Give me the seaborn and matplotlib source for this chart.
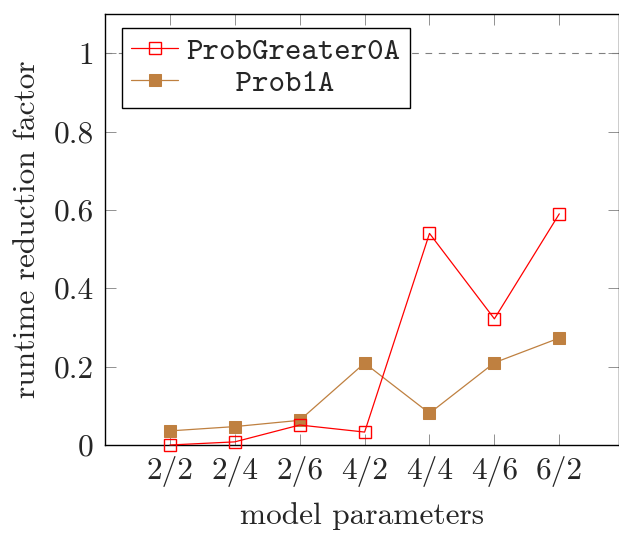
import matplotlib
matplotlib.use("Agg")
import matplotlib.pyplot as plt
import seaborn as sns
import pandas as pd

categories = ["2/2", "2/4", "2/6", "4/2", "4/4", "4/6", "6/2"]
prob_greater0a = [0.0, 0.008, 0.051, 0.033, 0.54, 0.322, 0.59]
prob1a = [0.036, 0.047, 0.063, 0.209, 0.081, 0.21, 0.273]
y_ticks = [0, 0.2, 0.4, 0.6, 0.8, 1]
y_tick_labels = ["0", "0.2", "0.4", "0.6", "0.8", "1"]

sns.set_style("ticks")
plt.rcParams["font.family"] = ["cmr10", "DejaVu Serif"]
plt.rcParams["axes.formatter.use_mathtext"] = True
plt.rcParams["mathtext.fontset"] = "cm"

FS = 22.6

pos = list(range(len(categories)))
df1 = pd.DataFrame({"x": pos, "y": prob_greater0a})
df2 = pd.DataFrame({"x": pos, "y": prob1a})

fig = plt.figure(figsize=(6.19, 5.36), dpi=100)
ax = fig.add_axes([105 / 619, 1 - 445 / 536, 514 / 619, 431 / 536])

ax.axhline(1, color="#808080", lw=0.8, ls=(0, (6, 6)), zorder=0)

sns.lineplot(data=df2, x="x", y="y", ax=ax, color="#bf8040", lw=0.9,
             marker="s", markersize=9, markerfacecolor="#bf8040",
             markeredgecolor="#bf8040", label="   Prob1A", zorder=3,
             clip_on=False)
sns.lineplot(data=df1, x="x", y="y", ax=ax, color="#ff0000", lw=0.9,
             marker="s", markersize=9, markerfacecolor="none",
             markeredgecolor="#ff0000", markeredgewidth=1.0,
             label="ProbGreater0A", zorder=4, clip_on=False)

ax.set_xlim(-1, 6.92)
ax.set_ylim(0, 1.1)
ax.set_xticks(pos)
ax.set_xticklabels(categories)
ax.set_yticks(y_ticks)
ax.set_yticklabels(y_tick_labels)
ax.tick_params(direction="in", length=8, width=0.6, color="#808080",
               labelsize=FS, top=True, right=True, pad=8)
for s in ax.spines.values():
    s.set_color("black")
    s.set_linewidth(1.0)
    s.set_visible(True)

ax.set_xlabel("model parameters", fontsize=FS, labelpad=11)
ax.set_ylabel("runtime reduction factor", fontsize=FS, labelpad=9)

handles, labels = ax.get_legend_handles_labels()
order = [labels.index("ProbGreater0A"), labels.index("   Prob1A")]
leg = ax.legend([handles[i] for i in order], [labels[i] for i in order],
                loc="upper left", bbox_to_anchor=(0.033, 0.968),
                frameon=True, fancybox=False, framealpha=1, edgecolor="black",
                prop={"family": "cmtt10", "size": FS}, handlelength=1.5,
                borderpad=0.3, labelspacing=0.1, handletextpad=0.25,
                borderaxespad=0)
leg.get_frame().set_linewidth(1.0)
leg.set_zorder(10)

fig.savefig("out.png", dpi=100)
